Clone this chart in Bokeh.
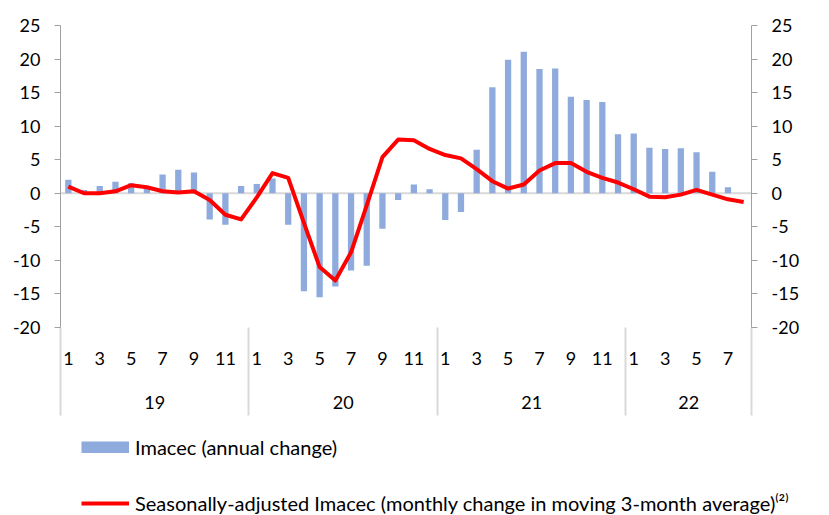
import math
from bokeh.plotting import figure
from bokeh.layouts import column
from bokeh.models import (Range1d, LinearAxis, FixedTicker, Span, Legend,
                          LegendItem, ColumnDataSource)
from bokeh.embed import file_html
from bokeh.resources import INLINE

# ---------------- data ----------------
years = ["19", "20", "21", "22"]
months_per_year = [12, 12, 12, 8]

imacec_annual = [
    2.0, 0.5, 1.1, 1.7, 1.5, 0.7, 2.8, 3.5, 3.1, -3.9, -4.7, 1.1,          # 2019
    1.4, 2.2, -4.7, -14.6, -15.5, -13.9, -11.5, -10.8, -5.3, -1.0, 1.3, 0.6,  # 2020
    -4.0, -2.8, 6.5, 15.8, 19.9, 21.1, 18.5, 18.6, 14.4, 13.9, 13.6, 8.8,  # 2021
    8.9, 6.8, 6.6, 6.7, 6.1, 3.2, 0.9, float("nan"),                      # 2022
]
imacec_sa = [
    1.0, 0.0, 0.0, 0.3, 1.2, 0.9, 0.3, 0.1, 0.3, -1.0, -3.2, -3.9,
    -0.6, 3.0, 2.3, -4.4, -11.0, -13.0, -8.8, -1.8, 5.4, 8.0, 7.9, 6.6,
    5.7, 5.2, 3.6, 1.8, 0.7, 1.3, 3.4, 4.5, 4.5, 3.2, 2.3, 1.6,
    0.6, -0.5, -0.6, -0.2, 0.5, -0.2, -0.9, -1.3,
]
y_ticks = [-20, -15, -10, -5, 0, 5, 10, 15, 20, 25]
bar_label = "Imacec (annual change)"
line_label = "Seasonally-adjusted Imacec (monthly change in moving 3-month average)\u207d\u00b2\u207e"

# ---------------- derived positions ----------------
n = len(imacec_sa)
xs = [i + 0.5 for i in range(n)]
month_num = []
for m in months_per_year:
    month_num += list(range(1, m + 1))
bounds = [0]
for m in months_per_year:
    bounds.append(bounds[-1] + m)
year_centers = [(bounds[i] + bounds[i + 1]) / 2 for i in range(len(years))]

FONT = "Lato"
FSIZE = "18px"
LEG_FSIZE = "20px"
BAR_COLOR = "#8faadc"
LINE_COLOR = "#ff0000"
AXIS_COLOR = "#a0a0a0"
SEP_COLOR = "#d9d9d9"

src = ColumnDataSource(dict(x=xs, bar=imacec_annual, sa=imacec_sa))

p = figure(frame_width=691, frame_height=302,
           x_range=Range1d(0, n), y_range=Range1d(-20, 25),
           output_backend="svg", toolbar_location=None,
           x_axis_location=None, y_axis_location=None,
           min_border_left=60, min_border_right=78, min_border_top=25,
           min_border_bottom=100, outline_line_color=None,
           background_fill_color="white", border_fill_color="white")
p.xgrid.visible = False
p.ygrid.visible = False

# zero line
p.add_layout(Span(location=0, dimension="width", line_color=SEP_COLOR,
                  line_width=2, level="underlay"))

bars = p.vbar(x="x", top="bar", bottom=0, width=0.4, source=src,
              fill_color=BAR_COLOR, line_color=None)
line = p.line(x="x", y="sa", source=src, line_color=LINE_COLOR,
              line_width=4, line_join="round")


def y_axis():
    ax = LinearAxis(ticker=FixedTicker(ticks=y_ticks, minor_ticks=[]))
    ax.major_label_overrides = {t: str(t) for t in y_ticks}
    ax.axis_line_color = AXIS_COLOR
    ax.major_tick_line_color = AXIS_COLOR
    ax.major_tick_in = 0
    ax.major_tick_out = 6
    ax.minor_tick_line_color = None
    ax.major_label_standoff = 14
    ax.major_label_text_font = FONT
    ax.major_label_text_font_size = FSIZE
    ax.major_label_text_color = "black"
    return ax


p.add_layout(y_axis(), "left")
p.add_layout(y_axis(), "right")

# month axis (year separators drawn as long minor ticks)
month_ticks = [xs[i] for i in range(n) if month_num[i] % 2 == 1]
month_ax = LinearAxis(ticker=FixedTicker(ticks=month_ticks, minor_ticks=bounds))
month_ax.major_label_overrides = {xs[i]: str(month_num[i]) for i in range(n)
                                  if month_num[i] % 2 == 1}
month_ax.axis_line_color = None
month_ax.major_tick_line_color = None
month_ax.major_tick_in = 0
month_ax.major_tick_out = 0
month_ax.minor_tick_line_color = SEP_COLOR
month_ax.minor_tick_line_width = 2
month_ax.minor_tick_in = 0
month_ax.minor_tick_out = 88
month_ax.major_label_standoff = -64
month_ax.major_label_text_font = FONT
month_ax.major_label_text_font_size = FSIZE
month_ax.major_label_text_color = "black"
p.add_layout(month_ax, "below")

year_ax = LinearAxis(ticker=FixedTicker(ticks=year_centers, minor_ticks=[]))
year_ax.major_label_overrides = {c: y for c, y in zip(year_centers, years)}
year_ax.axis_line_color = None
year_ax.major_tick_line_color = None
year_ax.minor_tick_line_color = None
year_ax.major_tick_in = 0
year_ax.major_tick_out = 0
year_ax.major_label_standoff = 28
year_ax.major_label_text_font = FONT
year_ax.major_label_text_font_size = FSIZE
year_ax.major_label_text_color = "black"
p.add_layout(year_ax, "below")

# ---------------- legend strip below the chart ----------------
lg = figure(width=829, height=88, x_range=Range1d(0, 1), y_range=Range1d(0, 1),
            output_backend="svg", toolbar_location=None,
            x_axis_location=None, y_axis_location=None,
            min_border_left=0, min_border_right=0, min_border_top=0,
            min_border_bottom=0, outline_line_color=None,
            background_fill_color="white", border_fill_color="white")
lg.frame_align = False
lg.xgrid.visible = False
lg.ygrid.visible = False
proxy = ColumnDataSource(dict(x=[float("nan")], y=[float("nan")]))
lg_bar = lg.vbar(x="x", top="y", width=0.4, source=proxy,
                 fill_color=BAR_COLOR, line_color=None)
lg_swatch = lg.line(x="x", y="y", source=proxy, line_color=BAR_COLOR,
                    line_width=12, line_cap="butt")
lg_line = lg.line(x="x", y="y", source=proxy, line_color=LINE_COLOR,
                  line_width=4)

legend = Legend(items=[LegendItem(label=bar_label, renderers=[lg_bar, lg_swatch]),
                       LegendItem(label=line_label, renderers=[lg_line])],
                location=(81, 0), orientation="vertical",
                glyph_width=48, glyph_height=12, label_standoff=6,
                label_height=24,
                label_text_font=FONT, label_text_font_size=LEG_FSIZE,
                label_text_color="black", spacing=32, margin=0, padding=0,
                border_line_color=None, background_fill_alpha=0)
lg.add_layout(legend, "center")

layout = column(p, lg, spacing=0)
open("out.html", "w").write(file_html(layout, INLINE))
